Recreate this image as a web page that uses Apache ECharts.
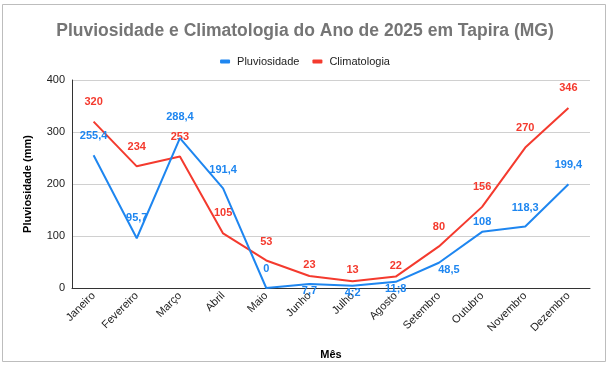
<!DOCTYPE html>
<html><head><meta charset="utf-8">
<script src="https://cdn.jsdelivr.net/npm/echarts@6/dist/echarts.min.js"></script>
<style>html,body{margin:0;padding:0;background:#fff;}#c{width:610px;height:380px;}</style>
</head><body><div id="c"></div>
<script>
const months = ['Janeiro','Fevereiro','Março','Abril','Maio','Junho','Julho','Agosto','Setembro','Outubro','Novembro','Dezembro'];
const pluviosidade = [255.4, 95.7, 288.4, 191.4, 0, 7.7, 4.2, 11.8, 48.5, 108, 118.3, 199.4];
const pluvioLabels = ['255,4','95,7','288,4','191,4','0','7,7','4;2','11;8','48,5','108','118,3','199,4'];
const climatologia = [320, 234, 253, 105, 53, 23, 13, 22, 80, 156, 270, 346];
const climaLabels = ['320','234','253','105','53','23','13','22','80','156','270','346'];
const yTicks = [0, 100, 200, 300, 400];

const BLUE = '#1e86f0', RED = '#f43a2e';
const FONT = 'Arial, "Liberation Sans", sans-serif';
// label offsets (dx, dy from point centre)
const pluvioOff = [[0,-19],[0,-20],[0,-21],[0,-19],[0,-19],[0,7],[0,7],[0,7],[10,7],[0,-10],[0,-19],[0,-19]];
const climaOff = [[0,-20],[0,-19],[0,-19],[0,-20],[0,-18],[0,-11],[0,-11],[0,-11],[0,-19],[0,-20],[0,-20],[0,-20]];

const chart = echarts.init(document.getElementById('c'), null, {renderer:'canvas'});
function mkData(vals, labels){ return vals.map((v,i)=>({value:v, label:{formatter:labels[i]}})); }
const lblBase = {show:true, position:'inside', fontSize:11, fontWeight:'bold', fontFamily:FONT};
chart.setOption({
  backgroundColor:'#fff',
  animation:false,
  graphic:[{type:'rect', shape:{x:2.5,y:4.5,width:603,height:357}, style:{fill:'none', stroke:'#bdbdbd', lineWidth:1}, z:-1}],
  title:{text:'Pluviosidade e Climatologia do Ano de 2025 em Tapira (MG)', left:'center', top:17,
    textStyle:{fontSize:17.5, fontWeight:'bold', color:'#757575', fontFamily:FONT}},
  legend:{top:51, left:'center', itemWidth:10, itemHeight:4, itemGap:13, icon:'roundRect',
    textStyle:{fontSize:11, color:'#222', fontFamily:FONT, padding:[0,0,0,2]},
    data:['Pluviosidade','Climatologia']},
  grid:{left:72, right:20, top:80, bottom:92},
  xAxis:{type:'category', data:months, boundaryGap:true, name:'Mês', nameLocation:'middle', nameGap:61,
    nameTextStyle:{fontSize:11, fontWeight:'bold', color:'#000', fontFamily:FONT},
    axisLine:{lineStyle:{color:'#333', width:1}}, axisTick:{show:false},
    axisLabel:{rotate:45, fontSize:11, color:'#222', margin:6, interval:0, fontFamily:FONT}},
  yAxis:{type:'value', min:0, max:400, interval:100, name:'Pluviosidade (mm)', nameLocation:'middle', nameGap:39,
    nameTextStyle:{fontSize:11, fontWeight:'bold', color:'#000', fontFamily:FONT},
    axisLine:{show:true, lineStyle:{color:'#333'}}, axisTick:{show:false},
    axisLabel:{fontSize:11, color:'#222', margin:7, fontFamily:FONT, formatter:v=>yTicks.includes(v)?String(v):''},
    splitLine:{lineStyle:{color:'#d0d0d0'}}},
  series:[
    {name:'Pluviosidade', type:'line', data:mkData(pluviosidade, pluvioLabels), color:BLUE, symbol:'circle', symbolSize:0, showSymbol:true,
      lineStyle:{width:2, color:BLUE}, z:3,
      label:Object.assign({color:BLUE}, lblBase),
      labelLayout:p=>({dx:pluvioOff[p.dataIndex][0], dy:pluvioOff[p.dataIndex][1]})},
    {name:'Climatologia', type:'line', data:mkData(climatologia, climaLabels), color:RED, symbol:'circle', symbolSize:0, showSymbol:true,
      lineStyle:{width:2, color:RED}, z:2,
      label:Object.assign({color:RED}, lblBase),
      labelLayout:p=>({dx:climaOff[p.dataIndex][0], dy:climaOff[p.dataIndex][1]})}
  ]
});
</script></body></html>
